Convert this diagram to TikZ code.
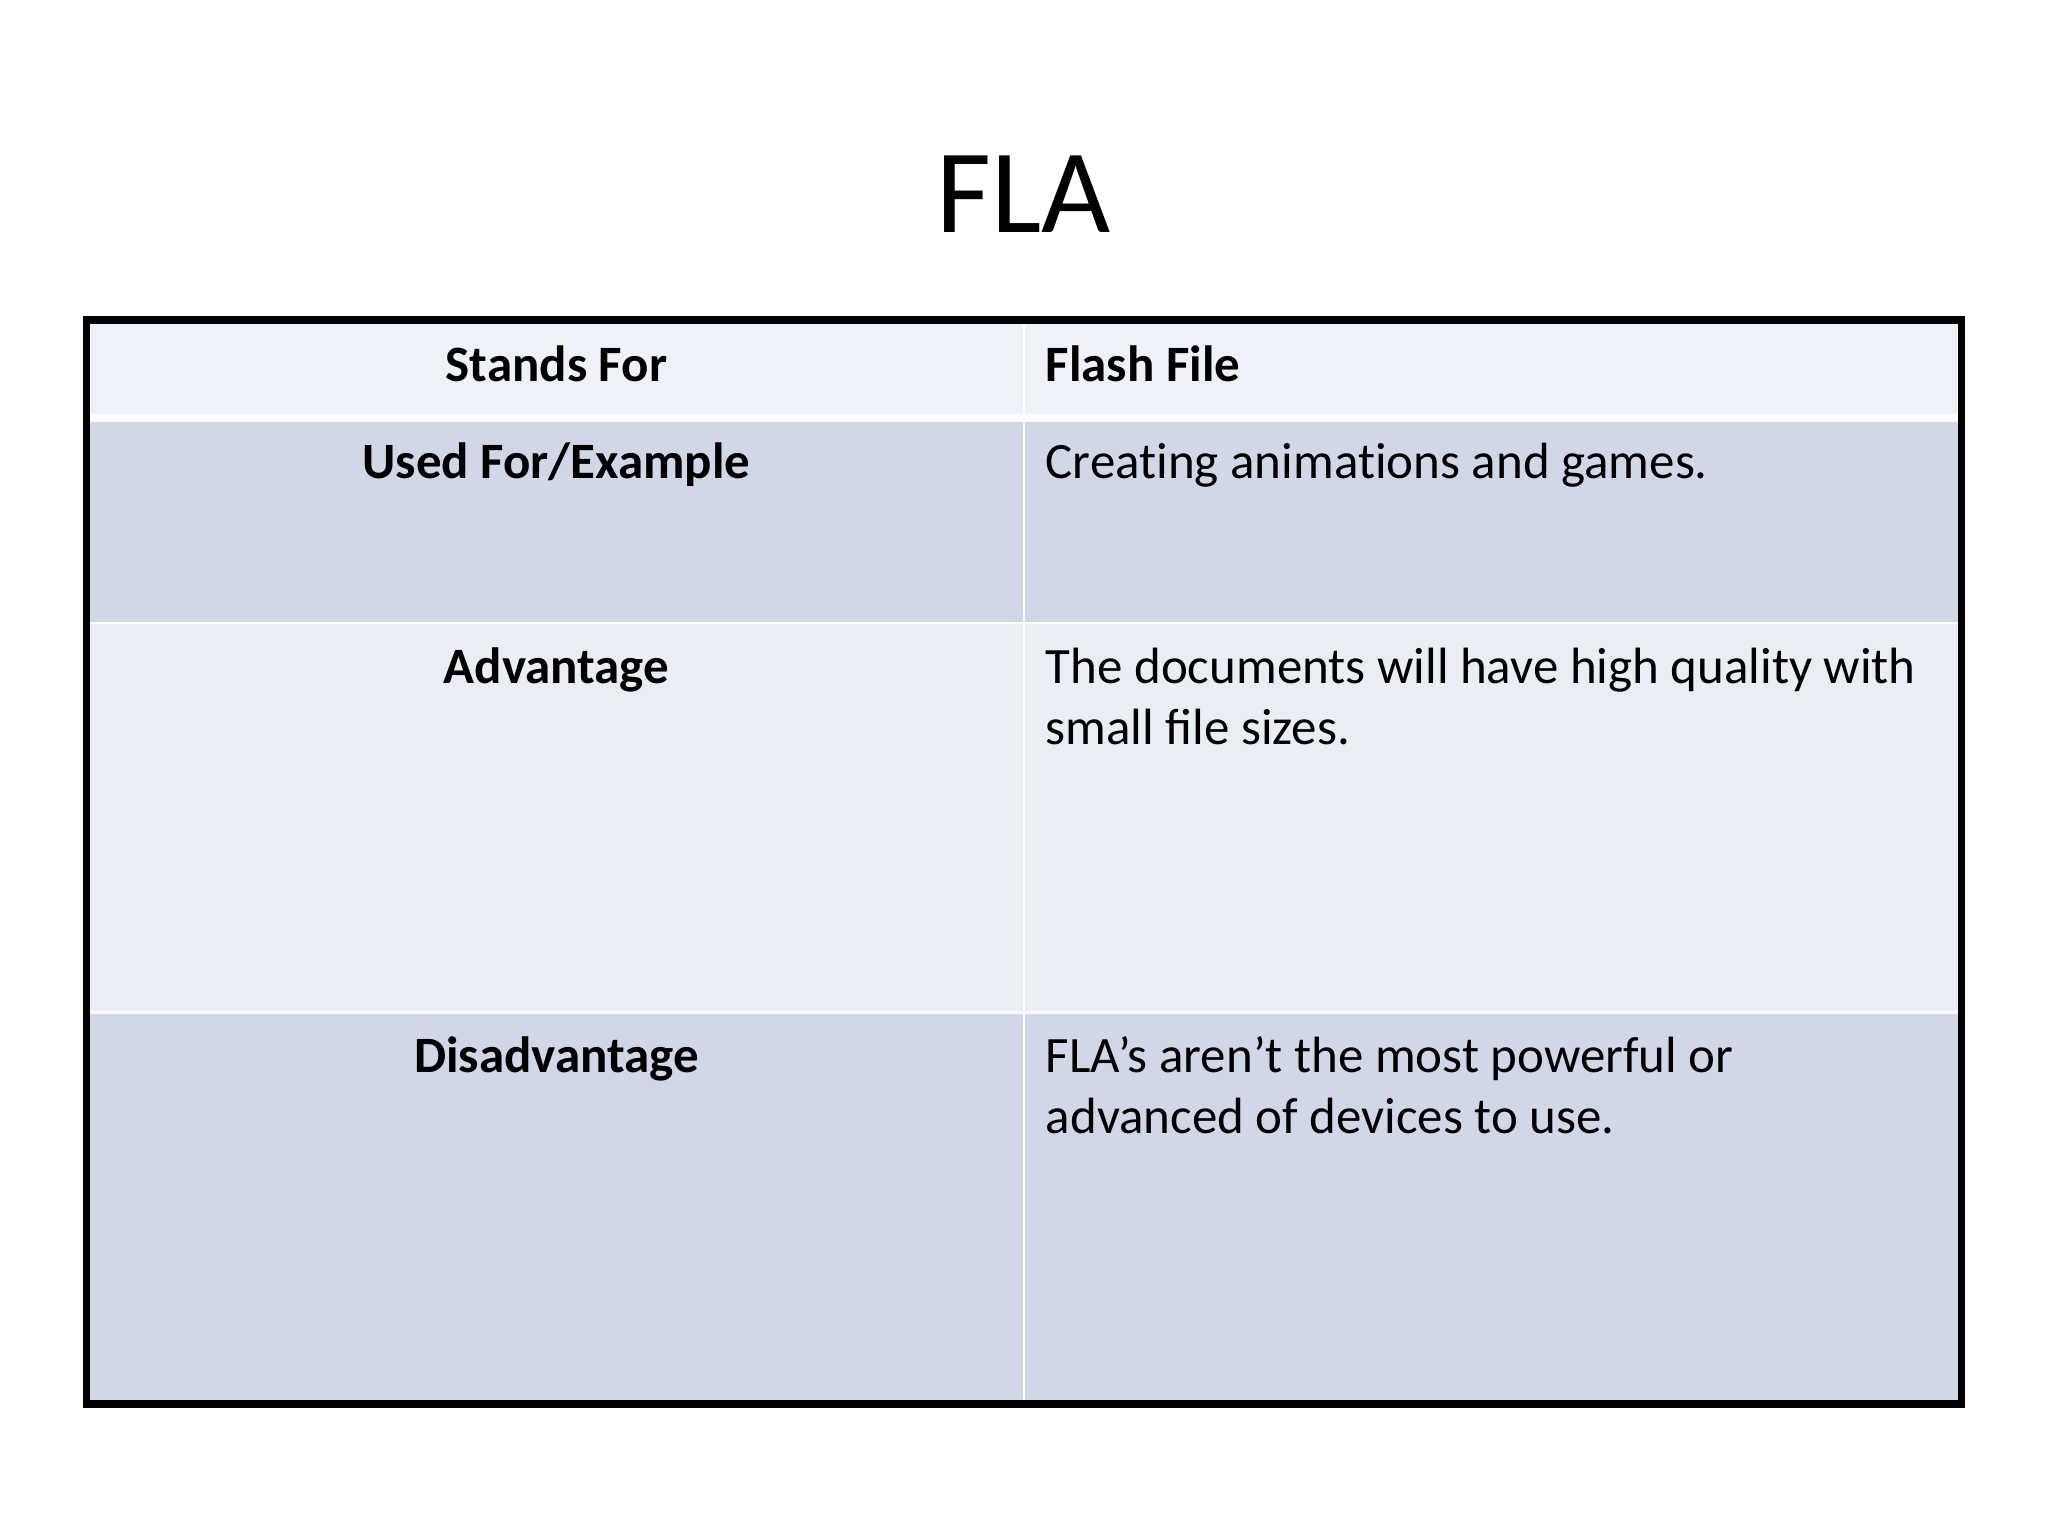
\documentclass[tikz,border=0pt]{standalone}
\usepackage{fontspec}
\setmainfont{Carlito}
\definecolor{hdr}{HTML}{EDF1F8}
\definecolor{dark}{HTML}{D0D8E8}
\definecolor{light}{HTML}{E9EDF4}
\begin{document}
\begin{tikzpicture}[x=0.01cm,y=-0.01cm,
  cell/.style={anchor=base,inner sep=0pt,font=\fontsize{11.1}{13.3}\selectfont},
  lft/.style={cell,font=\fontsize{11.1}{13.3}\selectfont\bfseries},
  rgt/.style={cell,anchor=base west,align=left}]
\useasboundingbox (0,0) rectangle (1568,1176);
\fill[white] (0,0) rectangle (1568,1176);
\node[anchor=base,inner sep=0pt,font=\fontsize{26}{30}\selectfont] (title) at (784,178) {FLA};
\fill[hdr] (66,245) rectangle (1502,320);
\fill[dark] (66,320) rectangle (1502,477);
\fill[light] (66,477) rectangle (1502,775);
\fill[dark] (66,775) rectangle (1502,1075);
\draw[white,line width=1.6pt] (66,320) -- (1502,320);
\draw[white,line width=0.6pt] (66,477) -- (1502,477);
\draw[white,line width=0.6pt] (66,775) -- (1502,775);
\draw[white,line width=0.6pt] (784,245) -- (784,1075);
\draw[black,line width=1.6pt] (66,245) rectangle (1502,1075);
\node[lft] (a1) at (426,292) {Stands For};
\node[rgt,font=\fontsize{11.1}{13.3}\selectfont\bfseries] (b1) at (800,292) {Flash File};
\node[lft] (a2) at (426,366) {Used For/Example};
\node[rgt] (b2) at (800,366) {Creat\kern0pt ing animat\kern0pt ions and games.};
\node[lft] (a3) at (426,523) {Advantage};
\node[rgt] (b3) at (800,570) {The documents will have high quality with\\small file sizes.};
\node[lft] (a4) at (426,821) {Disadvantage};
\node[rgt] (b4) at (800,868) {FLA’s aren’t the most powerful or\\advanced of devices to use.};
\end{tikzpicture}
\end{document}
